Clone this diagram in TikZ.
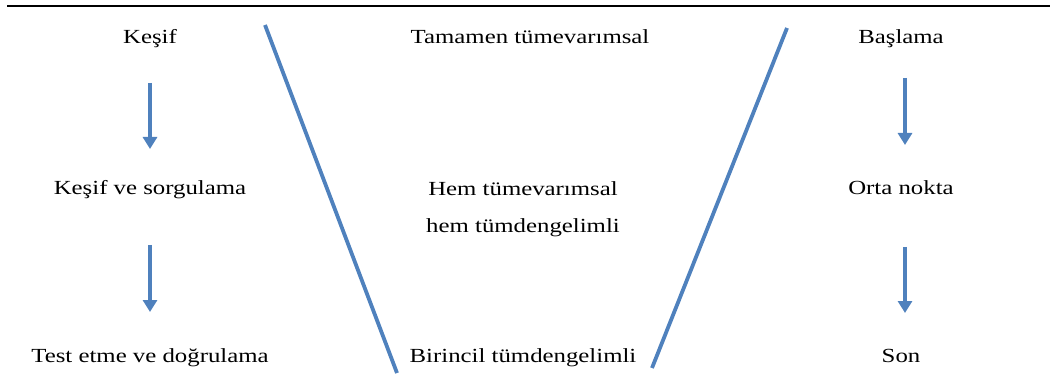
\documentclass[tikz,border=0pt]{standalone}
\usepackage{fontspec}
\setmainfont{Liberation Serif}
\usetikzlibrary{arrows.meta}
\definecolor{okmavi}{RGB}{79,129,189}
\begin{document}
\begin{tikzpicture}[x=1pt, y=-1pt, line join=round,
    yazi/.style={anchor=base, inner sep=0pt, xscale=1.24, font=\fontsize{20}{24}\selectfont},
    ok/.style={okmavi, line width=3.6pt, -{Triangle[width=14pt, length=12pt]}},
    cizgi/.style={okmavi, line width=3.8pt}]
    \useasboundingbox (0,0) rectangle (1050,382);

    % ust cizgi
    \draw[line width=2.6pt] (7,6) -- (1050,6);

    % sol sutun
    \node[yazi] (kesif) at (150,44) {Keşif};
    \node[yazi] (sorgu) at (150,195) {Keşif ve sorgulama};
    \node[yazi] (test) at (150,362) {Test etme ve doğrulama};

    % orta sutun
    \node[yazi] (tamamen) at (530,44) {Tamamen tümevarımsal};
    \node[yazi] (hem1) at (523,196) {Hem tümevarımsal};
    \node[yazi] (hem2) at (523,233) {hem tümdengelimli};
    \node[yazi] (birincil) at (523,362) {Birincil tümdengelimli};

    % sag sutun
    \node[yazi] (basla) at (901,44) {Başlama};
    \node[yazi] (orta) at (901,195) {Orta nokta};
    \node[yazi] (son) at (901,362) {Son};

    % oklarin uclari
    \coordinate (s1) at (150,83);
    \coordinate (e1) at (150,149);
    \coordinate (s2) at (150,245);
    \coordinate (e2) at (150,312);
    \coordinate (s3) at (905,78);
    \coordinate (e3) at (905,145);
    \coordinate (s4) at (905,247);
    \coordinate (e4) at (905,313);

    % oklar
    \draw[ok] (s1) -- (e1);
    \draw[ok] (s2) -- (e2);
    \draw[ok] (s3) -- (e3);
    \draw[ok] (s4) -- (e4);

    % capraz cizgiler
    \draw[cizgi] (265,25) -- (397,373);
    \draw[cizgi] (787,28) -- (652,368);
\end{tikzpicture}
\end{document}
